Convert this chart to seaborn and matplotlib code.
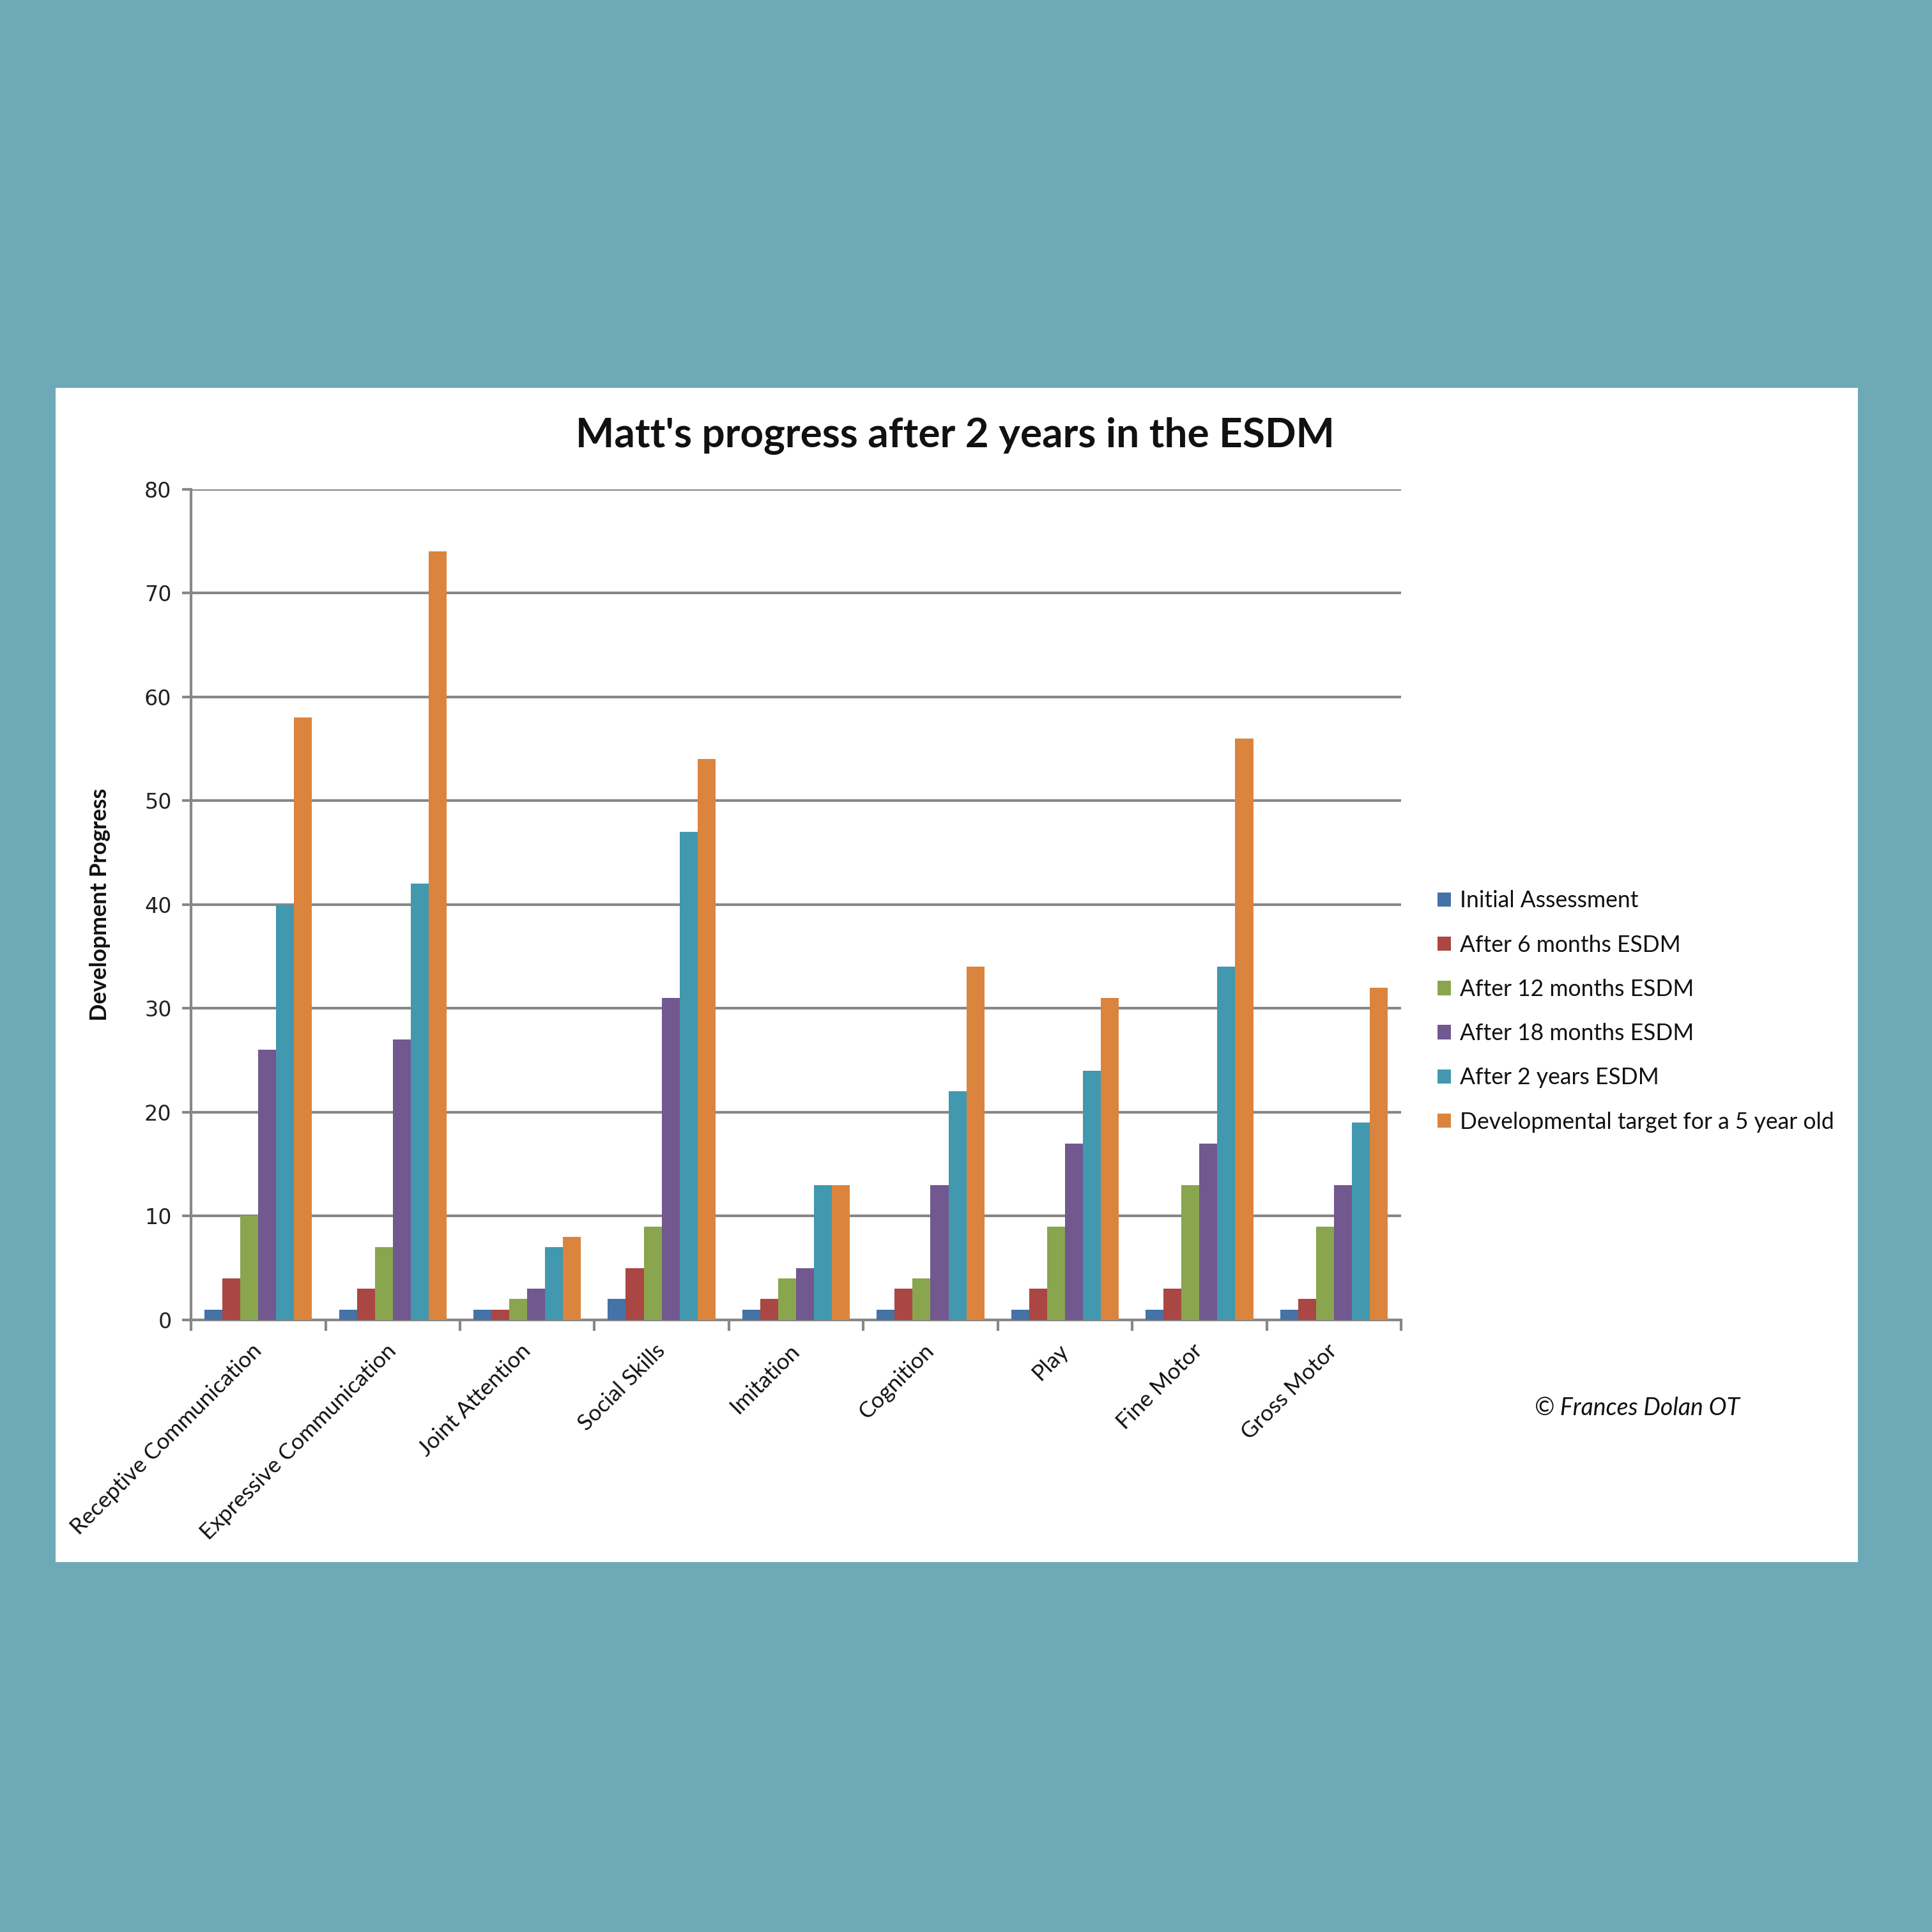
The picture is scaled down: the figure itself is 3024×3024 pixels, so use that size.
import numpy as np
import pandas as pd
import matplotlib
matplotlib.use("Agg")
import matplotlib.pyplot as plt
import seaborn as sns
from matplotlib.patches import Rectangle

categories = ["Receptive Communication", "Expressive Communication", "Joint Attention",
              "Social Skills", "Imitation", "Cognition", "Play", "Fine Motor", "Gross Motor"]
series_names = ["Initial Assessment", "After 6 months ESDM", "After 12 months ESDM",
                "After 18 months ESDM", "After 2 years ESDM", "Developmental target for a 5 year old"]
initial = [1, 1, 1, 2, 1, 1, 1, 1, 1]
after6 = [4, 3, 1, 5, 2, 3, 3, 3, 2]
after12 = [10, 7, 2, 9, 4, 4, 9, 13, 9]
after18 = [26, 27, 3, 31, 5, 13, 17, 17, 13]
after24 = [40, 42, 7, 47, 13, 22, 24, 34, 19]
target = [58, 74, 8, 54, 13, 34, 31, 56, 32]
colors = ["#4572A7", "#AA4643", "#89A54E", "#71588F", "#4198AF", "#DB843D"]
yticks = [0, 10, 20, 30, 40, 50, 60, 70, 80]

all_series = [initial, after6, after12, after18, after24, target]
rows = []
for name, vals in zip(series_names, all_series):
    for c, v in zip(categories, vals):
        rows.append({"Category": c, "Series": name, "Value": v})
df = pd.DataFrame(rows)

sns.set_theme(style="white")
plt.rcParams['font.family'] = ['Lato', 'DejaVu Sans']

BG = "#6DA9B7"
GRID = "#878787"
fig = plt.figure(figsize=(30.24, 30.24), dpi=100, facecolor=BG)
fig.patches.append(Rectangle((0.0288, 0.1915), 0.9329, 0.6078, transform=fig.transFigure,
                             facecolor="white", edgecolor="none", zorder=-10))

ax = fig.add_axes([0.0989, 0.3168, 0.6263, 0.4299])
ax.set_facecolor("white")
sns.barplot(data=df, x="Category", y="Value", hue="Series", palette=colors,
            hue_order=series_names, order=categories, saturation=1, width=0.8,
            ax=ax, legend=False, zorder=3, edgecolor="none")
ax.set_ylim(0, 80)
ax.set_xlim(-0.5, len(categories) - 0.5)
ax.set_yticks(yticks)
ax.set_yticklabels([str(t) for t in yticks], fontfamily="DejaVu Sans", fontsize=24, color="#222222")
ax.yaxis.grid(True, color=GRID, linewidth=3, zorder=0)
ax.set_axisbelow(True)
for s in ["top", "right"]:
    ax.spines[s].set_visible(False)
for s in ["left", "bottom"]:
    ax.spines[s].set_color(GRID)
    ax.spines[s].set_linewidth(3)
ax.tick_params(axis="y", which="major", length=10, width=3, color=GRID, pad=12, left=True)
ax.set_xticks(range(len(categories)))
ax.set_xticklabels(categories, rotation=45, ha="right", va="center", rotation_mode="anchor",
                   fontsize=25.3, color="#111111")
ax.tick_params(axis="x", which="major", length=0, pad=31)
ax.set_xticks(np.arange(-0.5, len(categories), 1), minor=True)
ax.tick_params(axis="x", which="minor", length=12, width=3, color=GRID, bottom=True)
ax.set_xlabel("")
ax.set_ylabel("Development Progress", fontsize=25.8, fontweight="bold", labelpad=38, color="#111111")

fig.text(0.4943, 0.7745, "Matt's progress after 2 years in the ESDM", ha="center", va="center",
         fontsize=46, fontweight="bold", color="#111111")

handles = [Rectangle((0, 0), 1, 1, facecolor=c, edgecolor="none") for c in colors]
fig.legend(handles, series_names, loc="center left", bbox_to_anchor=(0.7440, 0.4765),
           bbox_transform=fig.transFigure, frameon=False, fontsize=25.6,
           handlelength=0.6, handleheight=0.6, handletextpad=0.4, labelspacing=1.02,
           borderpad=0, borderaxespad=0, labelcolor="#111111")

fig.text(0.8473, 0.2712, "\u00a9 Frances Dolan OT", ha="center", va="center",
         fontsize=27, fontstyle="italic", color="#111111")

fig.savefig("out.png", dpi=100, facecolor=BG)
